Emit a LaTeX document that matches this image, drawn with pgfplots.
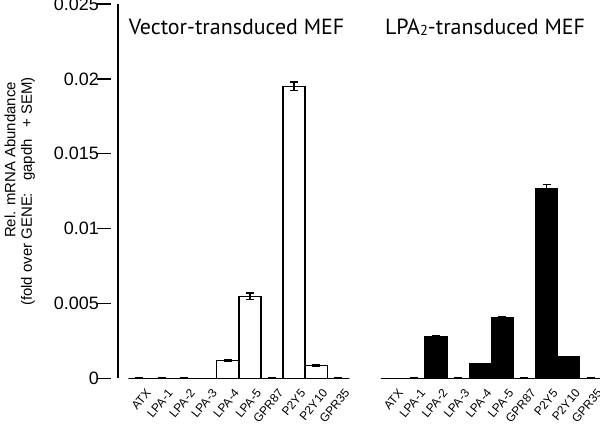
\documentclass[border=0pt]{standalone}
\usepackage{pgfplots}
\pgfplotsset{compat=1.18}
\usepackage{pgfplotstable}
\usepackage{fontspec}
\setmainfont{Liberation Sans}
\newfontfamily\titlefont{PT Sans}

\pgfplotstableread{
x y e
0 0 0.00002
1 0 0.00002
2 0 0.00002
3 0 0
4 0.00118 0.00004
5 0.00548 0.00022
6 0 0.00002
7 0.01950 0.00030
8 0.00085 0.00006
9 0 0.00002
}\leftdata

\pgfplotstableread{
x y e
0 0 0
1 0 0.00002
2 0.00275 0.00008
3 0 0.00002
4 0.00100 0
5 0.00403 0.00006
6 0 0.00002
7 0.01265 0.00030
8 0.00142 0.00005
9 0 0.00002
}\rightdata

\pgfplotsset{
  panel/.style={
    scale only axis, height=374.3bp, ymin=0, ymax=0.025,
    clip=false,
    axis x line=bottom, x axis line style={draw=none},
    xtick={0,...,9},
    xticklabels={ATX,LPA-1,LPA-2,LPA-3,LPA-4,LPA-5,GPR87,P2Y5,P2Y10,GPR35},
    xtick style={draw=none},
    tick align=inside,
    xticklabel style={rotate=50, anchor=east, inner sep=0bp, yshift=-15bp, xshift=-4bp, font=\fontsize{12}{12}\selectfont},
  },
  barstyle/.style={ybar, bar width=1, bar shift=0pt, draw=black, line width=1.4bp,
    error bars/.cd, y dir=both, y explicit,
    error mark options={rotate=90, mark size=4bp, line width=1.3bp},
    error bar style={line width=1.3bp}, /pgfplots/.cd},
}

\begin{document}
\begin{tikzpicture}
\useasboundingbox (-118bp,-50.7bp) rectangle (482bp,378.3bp);

\begin{axis}[panel, at={(0bp,0bp)}, anchor=south west,
  width=228.5bp, xmin=-0.97, xmax=9.37,
  axis y line=left, axis line style={-, line width=1.3bp},
  ytick={0,0.005,0.01,0.015,0.02,0.025},
  yticklabels={0,0.005,0.01,0.015,0.02,0.025},
  major tick length=14bp,
  ytick style={line width=1.3bp, black, xshift=-14bp},
  yticklabel style={font=\fontsize{18}{18}\selectfont, anchor=east, inner sep=0bp, xshift=-12bp},
]
\addplot[sharp plot, black, line width=1.3bp, mark=none] coordinates {(-0.45,0) (9.37,0)};
\addplot[fill=white, barstyle] table[x=x, y=y, y error=e]{\leftdata};
\end{axis}

\begin{axis}[panel, at={(263.7bp,0bp)}, anchor=south west,
  width=217.2bp, xmin=-0.46, xmax=9.37,
  axis y line=none,
]
\addplot[sharp plot, black, line width=1.3bp, mark=none] coordinates {(-0.46,0) (9.37,0)};
\addplot[fill=black, barstyle] table[x=x, y=y, y error=e]{\rightdata};
\end{axis}

\node[font=\titlefont\fontsize{22}{22}\selectfont, anchor=base] at (118.5bp,343.3bp) {Vector-transduced MEF};
\node[font=\titlefont\fontsize{22}{22}\selectfont, anchor=base] at (367bp,343.3bp) {LPA\raisebox{-1bp}{\fontsize{14.5}{14.5}\selectfont 2}-transduced MEF};

\node[rotate=90, font=\fontsize{15}{15}\selectfont] at (-108bp,218.3bp) {Rel. mRNA Abundance};
\node[rotate=90, font=\fontsize{15}{15}\selectfont] at (-90bp,186.8bp) {(fold over GENE:\hspace{12bp}gapdh\hspace{12bp}+\hspace{4bp}SEM)};
\end{tikzpicture}
\end{document}
